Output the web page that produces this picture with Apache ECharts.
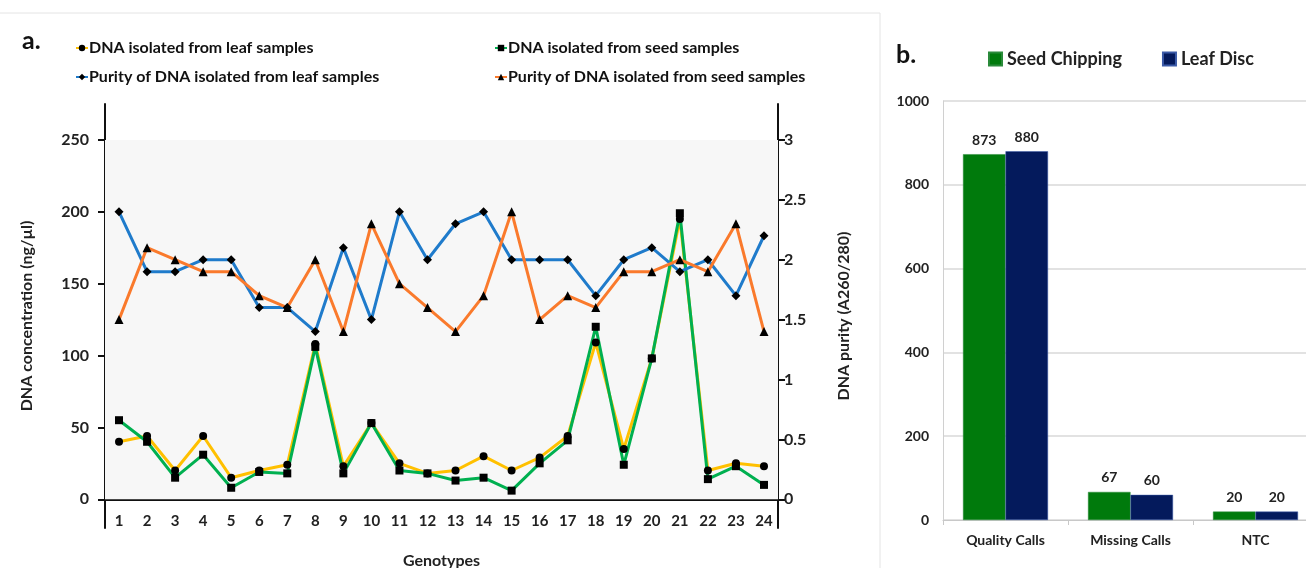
<!DOCTYPE html>
<html>
<head>
<meta charset="utf-8">
<script src="https://cdn.jsdelivr.net/npm/echarts@6/dist/echarts.min.js"></script>
<style>
html,body{margin:0;padding:0;background:#fff;}
#chart{width:1306px;height:568px;}
</style>
</head>
<body>
<div id="chart"></div>
<script>
const genotypes = ['1','2','3','4','5','6','7','8','9','10','11','12','13','14','15','16','17','18','19','20','21','22','23','24'];
const leafConc = [40,44,20,44,15,20,24,108,23,53,25,18,20,30,20,29,44,109,35,98,195,20,25,23];
const seedConc = [55,40,15,31,8,19,18,106,18,53,20,18,13,15,6,25,41,120,24,98,199,14,23,10];
const leafPurity = [2.4,1.9,1.9,2.0,2.0,1.6,1.6,1.4,2.1,1.5,2.4,2.0,2.3,2.4,2.0,2.0,2.0,1.7,2.0,2.1,1.9,2.0,1.7,2.2];
const seedPurity = [1.5,2.1,2.0,1.9,1.9,1.7,1.6,2.0,1.4,2.3,1.8,1.6,1.4,1.7,2.4,1.5,1.7,1.6,1.9,1.9,2.0,1.9,2.3,1.4];
const concTicks = [0,50,100,150,200,250];
const purityTicks = [0,0.5,1,1.5,2,2.5,3];

const callCats = ['Quality Calls','Missing Calls','NTC'];
const seedChipping = [873,67,20];
const leafDisc = [880,60,20];

const F = 'Lato, "Open Sans", sans-serif';

const chart = echarts.init(document.getElementById('chart'), null, {renderer:'canvas'});

function lineSeries(name, data, color, symbol, yIdx, size){
  return {
    name, type:'line', data, xAxisIndex:0, yAxisIndex:yIdx,
    symbol, symbolSize:size, showSymbol:true,
    lineStyle:{color, width:3},
    itemStyle:{color:'#000'},
    emphasis:{disabled:true},
    z: 3
  };
}

const s1 = lineSeries('DNA isolated from leaf samples', leafConc, '#ffc000', 'circle', 0, 8);
s1.markArea = {silent:true, itemStyle:{color:'#f7f7f7'}, data:[[{yAxis:0},{yAxis:250}]]};

chart.setOption({
  animation:false,
  backgroundColor:'#fff',
  title:[
    {text:'a.', left:22, top:28, padding:0, textStyle:{fontFamily:F, fontSize:25, fontWeight:'bold', color:'#111'}},
    {text:'b.', left:896, top:42, padding:0, textStyle:{fontFamily:F, fontSize:25, fontWeight:'bold', color:'#111'}}
  ],
  graphic:[
    {type:'line', silent:true, shape:{x1:0,y1:13,x2:880,y2:13}, style:{stroke:'#e4e4e4', lineWidth:1}},
    {type:'line', silent:true, shape:{x1:880,y1:13,x2:880,y2:568}, style:{stroke:'#e4e4e4', lineWidth:1}}
  ],
  legend:[
    {left:70, top:35, orient:'vertical', itemGap:13, itemWidth:12, itemHeight:8,
     data:['DNA isolated from leaf samples','Purity of DNA isolated from leaf samples'],
     textStyle:{fontFamily:F, fontSize:16, fontWeight:'bold', color:'#111', padding:[0,0,0,-4]}},
    {left:489, top:35, orient:'vertical', itemGap:13, itemWidth:12, itemHeight:8,
     data:['DNA isolated from seed samples','Purity of DNA isolated from seed samples'],
     textStyle:{fontFamily:F, fontSize:16, fontWeight:'bold', color:'#111', padding:[0,0,0,-4]}},
    {left:983, top:45, itemGap:40, itemWidth:13, itemHeight:13, icon:'rect',
     data:['Seed Chipping','Leaf Disc'],
     textStyle:{fontFamily:F, fontSize:18, fontWeight:'bold', color:'#222'}}
  ],
  grid:[
    {left:105, top:104, width:673, height:424, outerBoundsMode:'none', containLabel:false},
    {left:943, top:101, width:375, height:419, outerBoundsMode:'none', containLabel:false}
  ],
  xAxis:[
    {type:'category', gridIndex:0, data:genotypes, boundaryGap:true,
     name:'Genotypes', nameLocation:'middle', nameGap:25,
     nameTextStyle:{fontFamily:F, fontSize:16, fontWeight:'bold', color:'#222'},
     axisLine:{onZero:true, onZeroAxisIndex:0, lineStyle:{color:'#111', width:2}},
     axisTick:{show:false},
     axisLabel:{fontFamily:F, fontSize:15, fontWeight:'bold', color:'#222', margin:-14, interval:0},
     splitLine:{show:false}},
    {type:'category', gridIndex:1, data:callCats,
     axisLine:{lineStyle:{color:'#c8c8c8', width:1}},
     axisTick:{show:true, length:5, lineStyle:{color:'#c8c8c8'}},
     axisLabel:{fontFamily:F, fontSize:14, fontWeight:'bold', color:'#222', margin:13},
     splitLine:{show:false}}
  ],
  yAxis:[
    {type:'value', gridIndex:0, min:-20, max:275, position:'left',
     name:'DNA concentration (ng/µl)', nameLocation:'middle', nameGap:70, nameRotate:90,
     nameTextStyle:{fontFamily:F, fontSize:16, fontWeight:'bold', color:'#222'},
     axisLine:{show:true, lineStyle:{color:'#111', width:2}},
     axisTick:{show:true, length:7, customValues:concTicks, lineStyle:{color:'#111', width:2}},
     axisLabel:{customValues:concTicks, fontFamily:F, fontSize:16, fontWeight:'bold', color:'#222', margin:16},
     splitLine:{show:false}},
    {type:'value', gridIndex:0, min:-0.24, max:3.3, position:'right',
     name:'DNA purity (A260/280)', nameLocation:'middle', nameGap:58, nameRotate:90,
     nameTextStyle:{fontFamily:F, fontSize:16, fontWeight:'bold', color:'#222'},
     axisLine:{show:true, lineStyle:{color:'#111', width:2}},
     axisTick:{show:true, length:7, customValues:purityTicks, lineStyle:{color:'#111', width:2}},
     axisLabel:{customValues:purityTicks, fontFamily:F, fontSize:16, fontWeight:'bold', color:'#222', margin:6},
     splitLine:{show:false}},
    {type:'value', gridIndex:1, min:0, max:1000, interval:200,
     axisLine:{show:true, lineStyle:{color:'#d0d0d0'}},
     axisTick:{show:false},
     axisLabel:{fontFamily:F, fontSize:14, fontWeight:'bold', color:'#222', margin:14, formatter:(v)=>String(v)},
     splitLine:{show:true, lineStyle:{color:'#d9d9d9', width:1.5}}}
  ],
  series:[
    s1,
    lineSeries('DNA isolated from seed samples', seedConc, '#00b050', 'rect', 0, 8),
    lineSeries('Purity of DNA isolated from leaf samples', leafPurity, '#1f7bcb', 'diamond', 1, 9),
    lineSeries('Purity of DNA isolated from seed samples', seedPurity, '#fa7a2c', 'triangle', 1, 9),
    {name:'Seed Chipping', type:'bar', xAxisIndex:1, yAxisIndex:2, data:seedChipping,
     barGap:'0%', barCategoryGap:'32%',
     itemStyle:{color:'#007a0c', borderColor:'#2a8a3a', borderWidth:0.5},
     label:{show:true, position:'top', distance:7, fontFamily:F, fontSize:14, fontWeight:'bold', color:'#222'}},
    {name:'Leaf Disc', type:'bar', xAxisIndex:1, yAxisIndex:2, data:leafDisc,
     itemStyle:{color:'#041a5c', borderColor:'#3a5aa8', borderWidth:0.5},
     label:{show:true, position:'top', distance:7, fontFamily:F, fontSize:14, fontWeight:'bold', color:'#222'}}
  ]
});
</script>
</body>
</html>
